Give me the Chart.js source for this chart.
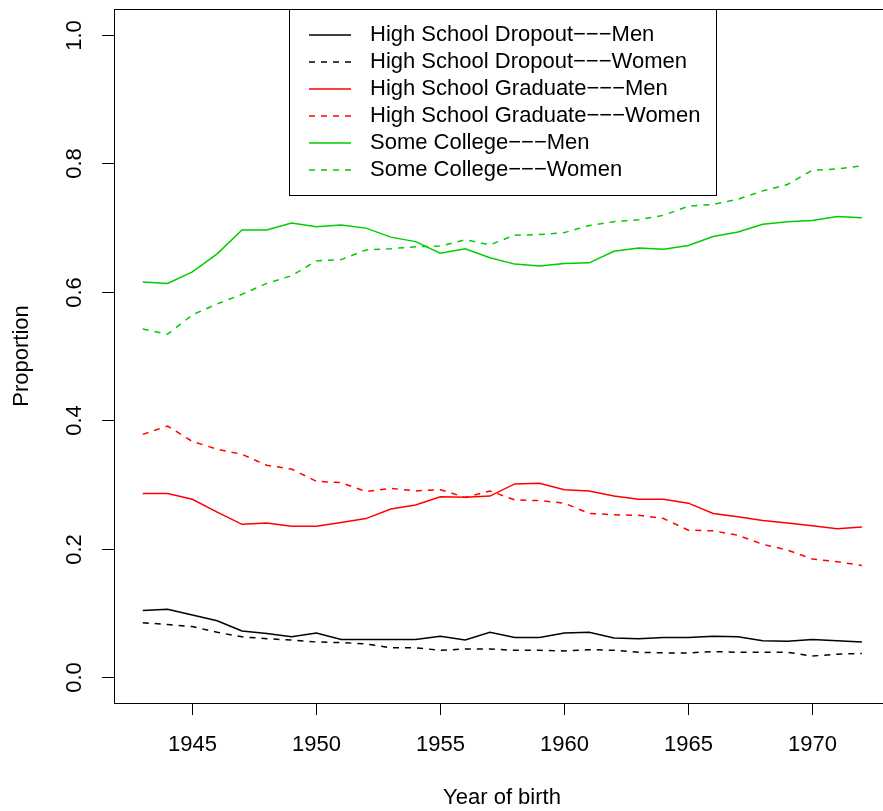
<!DOCTYPE html>
<html>
<head>
<meta charset="utf-8">
<script src="https://cdn.jsdelivr.net/npm/chart.js@4"></script>
<style>
  body { margin: 0; background: #fff; }
  canvas { display: block; }
</style>
</head>
<body>
<canvas id="lineChart" width="883" height="811"></canvas>
<script>
const years = [1943, 1944, 1945, 1946, 1947, 1948, 1949, 1950, 1951, 1952,
  1953, 1954, 1955, 1956, 1957, 1958, 1959, 1960, 1961, 1962,
  1963, 1964, 1965, 1966, 1967, 1968, 1969, 1970, 1971, 1972];

const dropoutMen = [0.104, 0.106, 0.097, 0.088, 0.072, 0.068, 0.063, 0.069, 0.059, 0.059,
  0.059, 0.059, 0.064, 0.058, 0.070, 0.062, 0.062, 0.069, 0.070, 0.061,
  0.060, 0.062, 0.062, 0.064, 0.063, 0.057, 0.056, 0.059, 0.057, 0.055];
const dropoutWomen = [0.085, 0.082, 0.079, 0.070, 0.063, 0.060, 0.058, 0.055, 0.054, 0.052,
  0.046, 0.046, 0.042, 0.044, 0.044, 0.042, 0.042, 0.041, 0.043, 0.042,
  0.039, 0.038, 0.038, 0.040, 0.039, 0.039, 0.039, 0.033, 0.036, 0.037];
const gradMen = [0.286, 0.286, 0.277, 0.257, 0.238, 0.240, 0.235, 0.235, 0.241, 0.247,
  0.262, 0.268, 0.281, 0.280, 0.282, 0.301, 0.302, 0.292, 0.290, 0.282,
  0.277, 0.277, 0.271, 0.255, 0.250, 0.244, 0.240, 0.236, 0.231, 0.234];
const gradWomen = [0.378, 0.391, 0.367, 0.355, 0.347, 0.330, 0.324, 0.305, 0.303, 0.289,
  0.294, 0.290, 0.292, 0.280, 0.290, 0.276, 0.275, 0.271, 0.255, 0.253,
  0.252, 0.247, 0.229, 0.228, 0.221, 0.207, 0.198, 0.184, 0.180, 0.174];
const collegeMen = [0.615, 0.613, 0.631, 0.659, 0.696, 0.696, 0.707, 0.701, 0.704, 0.699,
  0.685, 0.678, 0.660, 0.667, 0.653, 0.643, 0.640, 0.644, 0.645, 0.663,
  0.668, 0.666, 0.672, 0.686, 0.693, 0.705, 0.709, 0.711, 0.717, 0.715];
const collegeWomen = [0.542, 0.534, 0.564, 0.581, 0.596, 0.613, 0.625, 0.648, 0.650, 0.665,
  0.667, 0.670, 0.671, 0.681, 0.673, 0.688, 0.689, 0.692, 0.703, 0.709,
  0.712, 0.719, 0.733, 0.736, 0.744, 0.757, 0.767, 0.789, 0.791, 0.796];

const xTicks = [1945, 1950, 1955, 1960, 1965, 1970];
const yTicks = [0.0, 0.2, 0.4, 0.6, 0.8, 1.0];

const FONT = '"Liberation Sans", "Noto Sans", Arial, sans-serif';
const SEP = "\u2212\u2212\u2212";

function makeSet(label, values, color, dashed) {
  return {
    label: label,
    data: years.map((yr, i) => ({ x: yr, y: values[i] })),
    borderColor: color,
    borderWidth: 1.5,
    borderDash: dashed ? [6, 6] : [],
    pointRadius: 0,
    fill: false,
    tension: 0,
  };
}

// axes, box and legend drawn like the R plot
const rAxes = {
  id: "rAxes",
  afterDraw(chart) {
    const ctx = chart.ctx;
    const area = chart.chartArea;
    const xs = chart.scales.x;
    const ys = chart.scales.y;
    ctx.save();
    ctx.strokeStyle = "#000";
    ctx.fillStyle = "#000";
    ctx.lineWidth = 1;
    ctx.setLineDash([]);

    // box
    ctx.strokeRect(area.left + 0.5, area.top + 0.5, 900, area.bottom - area.top);

    // x axis
    ctx.font = "22px " + FONT;
    ctx.textAlign = "center";
    ctx.textBaseline = "middle";
    xTicks.forEach((t) => {
      const px = Math.round(xs.getPixelForValue(t)) + 0.5;
      ctx.beginPath();
      ctx.moveTo(px, area.bottom);
      ctx.lineTo(px, area.bottom + 12);
      ctx.stroke();
      ctx.fillText(String(t), px, area.bottom + 42);
    });
    ctx.fillText("Year of birth", (area.left + 890) / 2, area.bottom + 95);

    // y axis
    yTicks.forEach((t) => {
      const py = Math.round(ys.getPixelForValue(t)) + 0.5;
      ctx.beginPath();
      ctx.moveTo(area.left, py);
      ctx.lineTo(area.left - 12, py);
      ctx.stroke();
      ctx.save();
      ctx.translate(area.left - 39, py);
      ctx.rotate(-Math.PI / 2);
      ctx.fillText(t.toFixed(1), 0, 0);
      ctx.restore();
    });
    ctx.save();
    ctx.translate(22, (area.top + area.bottom) / 2);
    ctx.rotate(-Math.PI / 2);
    ctx.fillText("Proportion", 0, 0);
    ctx.restore();

    // legend
    const lx = 289, ly = 9, lw = 427, lh = 186;
    ctx.fillStyle = "#fff";
    ctx.fillRect(lx, ly, lw, lh);
    ctx.strokeRect(lx + 0.5, ly + 0.5, lw, lh);
    ctx.textAlign = "left";
    chart.data.datasets.forEach((ds, i) => {
      const rowY = 35 + i * 27;
      ctx.strokeStyle = ds.borderColor;
      ctx.lineWidth = 1.5;
      ctx.setLineDash(ds.borderDash);
      ctx.beginPath();
      ctx.moveTo(309, rowY);
      ctx.lineTo(351, rowY);
      ctx.stroke();
      ctx.fillStyle = "#000";
      ctx.fillText(ds.label, 370, rowY);
    });
    ctx.restore();
  },
};

const ctx = document.getElementById("lineChart").getContext("2d");
const lineChart = new Chart(ctx, {
  type: "line",
  data: {
    datasets: [
      makeSet("High School Dropout" + SEP + "Men", dropoutMen, "#000000", false),
      makeSet("High School Dropout" + SEP + "Women", dropoutWomen, "#000000", true),
      makeSet("High School Graduate" + SEP + "Men", gradMen, "#FF0000", false),
      makeSet("High School Graduate" + SEP + "Women", gradWomen, "#FF0000", true),
      makeSet("Some College" + SEP + "Men", collegeMen, "#00CD00", false),
      makeSet("Some College" + SEP + "Women", collegeWomen, "#00CD00", true),
    ],
  },
  options: {
    responsive: false,
    animation: false,
    devicePixelRatio: 1,
    layout: { padding: { left: 114, top: 9, right: 0, bottom: 108 } },
    plugins: {
      legend: { display: false },
      tooltip: { enabled: false },
      title: { display: false },
    },
    scales: {
      x: { type: "linear", display: false, min: 1941.84, max: 1972.85 },
      y: { type: "linear", display: false, min: -0.04, max: 1.04 },
    },
  },
  plugins: [rAxes],
});
</script>
</body>
</html>
